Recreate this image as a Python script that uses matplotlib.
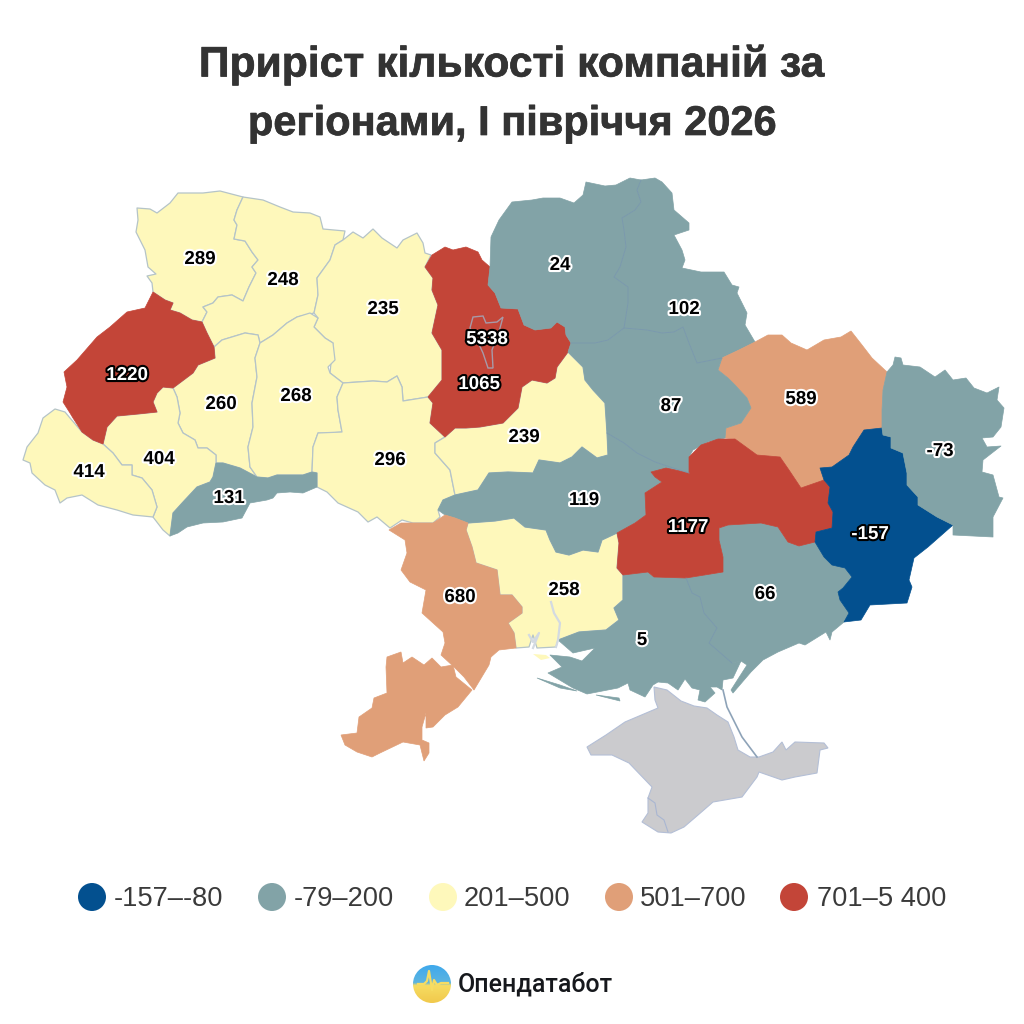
import matplotlib
matplotlib.use("Agg")
import matplotlib.pyplot as plt
import matplotlib.patheffects as pe
import numpy as np
from matplotlib.patches import Polygon, Circle
from matplotlib.colors import LinearSegmentedColormap

# values, one per region
regions = ["volyn", "rivne", "zhytomyr", "lviv", "ternopil", "khmelnytskyi", "vinnytsia",
           "chernivtsi", "ivano_frankivsk", "zakarpattia", "kyiv_obl", "kyiv_city", "chernihiv",
           "sumy", "kharkiv", "poltava", "cherkasy", "kirovohrad", "mykolaiv", "odesa",
           "kherson", "zaporizhzhia", "dnipro", "donetsk", "luhansk"]
values = [289, 248, 235, 1220, 260, 268, 296, 131, 404, 414, 1065, 5338, 24,
          102, 589, 87, 239, 119, 258, 680, 5, 66, 1177, -157, -73]

# colour classes
bin_tops = [-80, 200, 500, 700, 5400]
bin_labels = ["-157–-80", "-79–200", "201–500", "501–700", "701–5 400"]
bin_colors = ["#03508f", "#82a3a7", "#fef8bb", "#e09f78", "#c34538"]
no_data_color = "#cbcbce"

title_lines = ["Приріст кількості компаній за", "регіонами, І півріччя 2026"]
brand = "Опендатабот"

# label anchor for each region, picture pixels
label_xy = {
    "volyn": (200, 258), "rivne": (283, 279), "zhytomyr": (383, 308), "lviv": (127, 374),
    "ternopil": (221, 403), "khmelnytskyi": (296, 395), "vinnytsia": (390, 459),
    "chernivtsi": (229, 497), "ivano_frankivsk": (159, 458), "zakarpattia": (89, 471),
    "kyiv_obl": (479, 383), "kyiv_city": (487, 338), "chernihiv": (560, 264), "sumy": (684, 308),
    "kharkiv": (801, 398), "poltava": (671, 405), "cherkasy": (524, 436), "kirovohrad": (584, 499),
    "mykolaiv": (564, 589), "odesa": (460, 596), "kherson": (642, 639), "zaporizhzhia": (765, 593),
    "dnipro": (688, 526), "donetsk": (870, 533), "luhansk": (940, 450),
}

outlines = {}
outlines["volyn"] = [(137,208),(150,209),(157,213),(170,203),(178,193),(203,193),(220,191),(243,197),(237,210),(234,220),(237,225),(234,239),(245,241),(252,252),(258,260),(252,267),(256,273),(249,287),(243,301),(232,295),(218,297),(213,303),(203,307),(207,312),(202,322),(192,320),(180,313),(170,310),(173,303),(165,300),(153,292),(152,283),(147,276),(156,274),(148,267),(145,250),(136,232),(138,220)]
outlines["rivne"] = [(243,197),(263,200),(280,207),(293,212),(310,213),(320,217),(323,229),(345,231),(343,240),(335,245),(330,260),(317,278),(318,295),(314,313),(297,317),(287,323),(273,335),(260,343),(258,335),(245,333),(222,340),(214,347),(207,333),(202,322),(207,312),(203,307),(213,303),(218,297),(232,295),(243,301),(249,287),(256,273),(252,267),(258,260),(252,252),(245,241),(234,239),(237,225),(234,220),(237,210)]
outlines["zhytomyr"] = [(343,240),(353,232),(363,238),(373,229),(382,238),(397,248),(403,240),(417,233),(423,243),(425,253),(431,255),(425,267),(433,278),(432,290),(438,305),(432,333),(442,350),(442,380),(428,397),(403,401),(402,387),(397,376),(387,382),(373,381),(343,383),(330,373),(333,343),(325,338),(314,327),(318,318),(314,313),(318,295),(317,278),(330,260),(335,245)]
outlines["lviv"] = [(153,292),(165,300),(173,303),(170,310),(180,313),(192,320),(202,322),(207,333),(214,347),(215,358),(198,365),(193,373),(173,388),(163,387),(157,393),(153,402),(157,412),(138,414),(117,416),(107,427),(103,444),(93,440),(82,432),(73,418),(70,413),(63,402),(67,387),(64,372),(77,360),(97,337),(110,327),(127,312),(145,308)]
outlines["ternopil"] = [(214,347),(222,340),(245,333),(258,335),(260,343),(255,358),(257,377),(252,403),(253,427),(248,447),(250,467),(257,477),(240,468),(223,463),(216,463),(216,455),(207,448),(198,448),(195,440),(183,433),(178,423),(180,413),(177,397),(173,388),(193,373),(198,365),(215,358)]
outlines["khmelnytskyi"] = [(260,343),(273,335),(287,323),(297,317),(310,313),(318,318),(314,327),(325,338),(333,343),(335,360),(328,367),(330,373),(343,383),(337,397),(338,410),(342,432),(330,433),(318,433),(313,447),(312,472),(303,475),(293,475),(277,475),(268,478),(257,477),(250,467),(248,447),(253,427),(252,403),(257,377),(255,358)]
outlines["vinnytsia"] = [(343,383),(373,381),(387,382),(397,376),(402,387),(403,401),(428,397),(433,403),(430,423),(445,437),(435,443),(435,453),(450,470),(455,495),(443,500),(438,510),(440,517),(433,523),(413,523),(402,520),(390,528),(377,517),(368,522),(358,512),(338,503),(327,492),(317,487),(317,473),(312,472),(313,447),(318,433),(342,432),(338,410),(337,397)]
outlines["chernivtsi"] = [(216,463),(223,463),(240,468),(257,477),(268,478),(277,475),(293,475),(303,475),(312,472),(317,473),(317,487),(303,493),(290,492),(277,493),(273,498),(267,500),(250,503),(242,518),(223,522),(203,523),(187,527),(178,533),(170,536),(173,513),(183,502),(197,487),(210,482),(213,477)]
outlines["ivano_frankivsk"] = [(103,444),(107,427),(117,416),(138,414),(157,412),(153,402),(157,393),(163,387),(173,388),(177,397),(180,413),(178,423),(183,433),(195,440),(198,448),(207,448),(216,455),(216,463),(213,477),(210,482),(197,487),(183,502),(173,513),(170,536),(163,530),(153,517),(157,507),(152,490),(142,478),(132,475),(132,465),(122,465),(113,453)]
outlines["zakarpattia"] = [(55,409),(65,412),(70,418),(82,432),(93,440),(103,444),(113,453),(122,465),(132,465),(132,475),(142,478),(152,490),(157,507),(153,517),(133,515),(117,510),(98,505),(82,495),(67,498),(60,503),(55,490),(45,485),(32,473),(30,463),(23,460),(27,447),(38,433),(43,418)]
outlines["kyiv_obl"] = [(425,267),(432,255),(445,247),(453,250),(466,247),(478,252),(482,260),(490,267),(488,285),(495,293),(501,308),(518,309),(524,325),(535,330),(551,328),(557,322),(565,327),(566,335),(571,343),(568,352),(557,367),(555,378),(547,383),(532,380),(522,387),(518,408),(503,423),(480,427),(466,428),(455,428),(445,437),(430,423),(433,403),(428,397),(442,380),(442,350),(432,333),(438,305),(432,290),(433,278)]
outlines["kyiv_city"] = [(473,317),(483,316),(486,323),(497,322),(503,317),(500,328),(497,337),(492,350),(493,368),(488,368),(483,353),(477,340),(470,328)]
outlines["chernihiv"] = [(490,267),(491,237),(499,220),(512,202),(532,200),(543,198),(560,198),(574,203),(583,195),(586,182),(605,186),(616,185),(630,178),(641,180),(637,190),(641,202),(635,210),(622,218),(624,230),(626,247),(620,267),(614,277),(628,287),(628,303),(624,328),(608,340),(595,343),(571,343),(566,335),(565,327),(557,322),(551,328),(535,330),(524,325),(518,309),(501,308),(495,293),(488,285)]
outlines["sumy"] = [(641,180),(655,178),(662,182),(672,193),(674,210),(689,223),(689,230),(674,235),(682,250),(685,260),(682,268),(701,272),(724,272),(732,285),(739,287),(737,293),(747,313),(745,325),(755,342),(739,350),(722,358),(697,363),(689,343),(683,327),(674,332),(662,333),(647,330),(624,328),(628,303),(628,287),(614,277),(620,267),(626,247),(624,230),(622,218),(635,210),(641,202),(637,190)]
outlines["kharkiv"] = [(718,370),(722,358),(739,350),(755,342),(768,335),(782,335),(791,343),(807,350),(824,340),(841,337),(851,331),(862,345),(872,358),(887,372),(883,390),(882,410),(882,428),(864,430),(853,447),(849,455),(832,467),(820,468),(824,480),(801,488),(789,470),(780,457),(757,455),(735,439),(725,438),(726,428),(741,423),(751,408),(747,398),(735,385),(728,378)]
outlines["poltava"] = [(571,343),(595,343),(608,340),(624,328),(647,330),(662,333),(674,332),(683,327),(689,343),(697,363),(722,358),(718,370),(728,378),(735,385),(747,398),(751,408),(741,423),(726,428),(725,438),(708,442),(693,450),(689,457),(689,473),(670,467),(655,462),(637,453),(624,443),(607,433),(605,403),(593,390),(585,380),(583,367),(568,352)]
outlines["cherkasy"] = [(568,352),(583,367),(585,380),(593,390),(605,403),(607,433),(608,455),(597,458),(582,447),(572,457),(560,463),(539,460),(533,473),(508,472),(489,473),(478,490),(455,495),(450,470),(435,453),(435,443),(445,437),(455,428),(466,428),(480,427),(503,423),(518,408),(522,387),(532,380),(547,383),(555,378),(557,367)]
outlines["kirovohrad"] = [(455,495),(478,490),(489,473),(508,472),(533,473),(539,460),(560,463),(572,457),(582,447),(597,458),(608,455),(607,433),(624,443),(637,453),(655,462),(670,467),(689,473),(666,468),(651,472),(655,477),(662,482),(645,493),(646,515),(635,523),(617,533),(602,540),(598,552),(583,550),(569,555),(556,552),(550,540),(546,530),(525,527),(514,518),(495,521),(468,523),(455,518),(445,515),(438,510),(443,500)]
outlines["mykolaiv"] = [(466,530),(468,523),(495,521),(514,518),(525,527),(546,530),(550,540),(556,552),(569,555),(583,550),(598,552),(602,540),(617,533),(619,543),(617,568),(623,575),(623,600),(614,608),(619,620),(606,630),(579,632),(558,640),(556,647),(537,648),(533,635),(529,647),(516,648),(514,633),(508,623),(522,613),(522,607),(512,595),(500,595),(497,570),(476,563),(472,547)]
mykolaiv_islet = [(533,654),(541,660),(550,658),(546,655)]
outlines["odesa"] = [(389,530),(401,523),(413,523),(433,523),(445,515),(455,518),(468,523),(466,530),(472,547),(476,563),(497,570),(500,595),(512,595),(522,607),(522,613),(508,623),(514,633),(516,648),(499,650),(491,657),(489,665),(474,690),(464,677),(454,667),(441,655),(445,643),(443,632),(422,613),(426,590),(410,582),(401,570),(407,553),(405,540)]
odesa_south = [(387,657),(401,652),(403,663),(412,657),(424,665),(432,658),(441,667),(453,665),(456,677),(472,690),(458,707),(445,715),(433,727),(426,728),(426,713),(422,727),(422,740),(429,743),(429,753),(424,761),(420,745),(403,742),(380,753),(372,757),(357,752),(345,745),(341,735),(357,733),(359,717),(372,708),(374,698),(387,693),(386,667)]
outlines["kherson"] = [(623,575),(648,572),(654,577),(686,578),(692,593),(700,597),(704,613),(717,628),(709,643),(732,663),(741,661),(733,678),(723,680),(722,690),(717,687),(710,687),(715,693),(705,702),(698,700),(700,690),(692,688),(685,679),(678,690),(668,683),(658,682),(653,685),(645,697),(630,690),(628,683),(618,688),(587,694),(573,688),(548,673),(562,667),(550,655),(570,657),(582,661),(595,648),(573,653),(558,640),(579,632),(606,630),(619,620),(614,608),(623,600)]
kherson_spit_a = [(537,678),(560,685),(577,691),(560,688)]
kherson_spit_b = [(596,695),(619,698),(620,701)]
outlines["zaporizhzhia"] = [(686,578),(723,572),(723,557),(719,540),(719,528),(728,525),(761,523),(778,527),(788,542),(799,546),(815,542),(824,557),(832,565),(845,568),(852,577),(843,588),(838,592),(840,600),(849,613),(844,622),(832,632),(830,640),(826,632),(805,645),(799,643),(778,652),(763,660),(751,672),(733,693),(731,690),(747,665),(741,661),(732,663),(709,643),(717,628),(704,613),(700,597),(692,593)]
outlines["dnipro"] = [(689,473),(689,457),(701,445),(718,439),(735,439),(757,455),(780,457),(789,470),(801,488),(824,480),(830,487),(828,503),(833,512),(832,528),(816,532),(815,542),(799,546),(788,542),(778,527),(761,523),(728,525),(719,528),(719,540),(723,557),(723,572),(686,578),(654,577),(648,572),(623,575),(617,568),(619,543),(617,533),(635,523),(646,515),(645,493),(662,482),(655,477),(651,472),(666,468)]
outlines["donetsk"] = [(864,430),(882,428),(883,435),(891,437),(891,448),(903,453),(907,473),(907,485),(918,497),(918,505),(937,517),(953,525),(928,547),(914,558),(909,580),(912,587),(907,603),(870,605),(861,620),(844,622),(849,613),(840,600),(838,592),(843,588),(852,577),(845,568),(832,565),(824,557),(815,542),(816,532),(832,528),(833,512),(828,503),(830,487),(824,480),(820,468),(832,467),(849,455),(853,447)]
outlines["luhansk"] = [(887,372),(893,365),(895,357),(901,358),(903,365),(920,367),(935,377),(945,370),(953,380),(966,378),(974,388),(987,393),(999,387),(997,400),(1004,408),(1001,427),(993,437),(982,438),(987,447),(1001,446),(983,460),(982,472),(993,475),(999,497),(1003,498),(993,517),(993,537),(953,535),(953,525),(937,517),(918,505),(918,497),(907,485),(907,473),(903,453),(891,448),(891,437),(883,435),(882,428),(882,410),(883,390)]
crimea = [(654,687),(667,690),(681,701),(694,706),(707,708),(717,715),(728,722),(734,737),(738,750),(750,757),(759,757),(773,752),(782,742),(786,750),(795,742),(824,743),(828,748),(820,750),(817,773),(795,777),(782,780),(759,772),(757,777),(742,797),(713,802),(698,815),(684,827),(671,833),(658,832),(642,822),(648,813),(648,798),(652,787),(629,763),(612,755),(591,755),(587,747),(606,735),(625,722),(658,708),(655,700)]
sevastopol_line = [(648,798),(655,803),(657,815),(664,820),(668,832)]
arabat_spit = [(723,690),(727,707),(742,737),(757,757)]
river_a = [(551,602),(554,613),(560,623),(558,640),(556,647)]
river_b = [(529,635),(533,642),(539,633),(533,648)]

# faint borders inside the teal block
inner_borders = [
    [(641,180),(637,190),(641,202),(635,210),(622,218),(624,230),(626,247),(620,267),(614,277),(628,287),(628,303),(624,328)],
    [(571,343),(595,343),(608,340),(624,328),(647,330),(662,333),(674,332),(683,327),(689,343),(697,363),(722,358)],
    [(607,433),(624,443),(637,453),(655,462),(670,467),(689,473)],
    [(686,578),(692,593),(700,597),(704,613),(717,628),(709,643),(732,663)],
]

pulse_x = [418, 424, 427, 429, 432, 434, 437, 441, 448]
pulse_y = [984, 984, 981, 971, 990, 980, 985, 983, 983]

legend_dot_x = [92, 272, 443, 619, 794]
legend_text_x = [114, 294, 464, 640, 817]


def class_color(v):
    for top, c in zip(bin_tops, bin_colors):
        if v <= top:
            return c
    return bin_colors[-1]


plt.rcParams["font.family"] = ["Liberation Sans", "DejaVu Sans"]
fig = plt.figure(figsize=(10.24, 10.24), dpi=100)
ax = fig.add_axes([0, 0, 1, 1])
ax.set_xlim(0, 1024)
ax.set_ylim(1024, 0)
ax.axis("off")

yellow = bin_colors[2]
edge = "#b5c4c8"
# yellow regions carry the visible borders, the rest are painted over them
for name, v in zip(regions, values):
    if class_color(v) == yellow:
        ax.add_patch(Polygon(outlines[name], closed=True, fc=yellow, ec=edge, lw=0.9, joinstyle="round", zorder=2))
ax.add_patch(Polygon(mykolaiv_islet, closed=True, fc=yellow, ec="none", zorder=2))
for name, v in zip(regions, values):
    c = class_color(v)
    if c != yellow and name != "kyiv_city":
        ax.add_patch(Polygon(outlines[name], closed=True, fc=c, ec=c, lw=0.5, joinstyle="round", zorder=2.2))

for seg in inner_borders:
    ax.plot(*zip(*seg), color="#7a98ae", lw=0.6, zorder=2.4)

city_c = class_color(values[regions.index("kyiv_city")])
ax.add_patch(Polygon(outlines["kyiv_city"], closed=True, fc=city_c, ec="#a79aa8", lw=1.0, zorder=3))
odesa_c = class_color(values[regions.index("odesa")])
ax.add_patch(Polygon(odesa_south, closed=True, fc=odesa_c, ec=odesa_c, lw=0.5, zorder=2.2))
kh_c = class_color(values[regions.index("kherson")])
ax.add_patch(Polygon(kherson_spit_a, closed=True, fc=kh_c, ec=kh_c, lw=0.5, zorder=2))
ax.add_patch(Polygon(kherson_spit_b, closed=True, fc=kh_c, ec=kh_c, lw=0.5, zorder=2))
ax.add_patch(Polygon(crimea, closed=True, fc=no_data_color, ec="#b4bfd6", lw=0.8, zorder=2))
ax.plot(*zip(*sevastopol_line), color="#a9b6d2", lw=0.8, zorder=3)
ax.plot(*zip(*arabat_spit), color="#8ea3b8", lw=1.2, zorder=3)
ax.plot(*zip(*river_a), color="#d3dae2", lw=1.6, zorder=3)
ax.plot(*zip(*river_b), color="#d3dae2", lw=1.6, zorder=3)

# white figures with a dark rim on the dark classes
for name, v in zip(regions, values):
    x, y = label_xy[name]
    dark = class_color(v) in (bin_colors[0], bin_colors[4])
    fg, rim = ("white", "black") if dark else ("black", "white")
    ax.text(x, y + 1.5, str(v), ha="center", va="center", fontsize=13.5, fontweight="bold", color=fg,
            zorder=5, path_effects=[pe.withStroke(linewidth=3, foreground=rim)])

ax.text(512, 65, title_lines[0], ha="center", va="center", fontsize=30.7, fontweight="bold", color="#333333",
        path_effects=[pe.withStroke(linewidth=0.5, foreground="#333333")])
ax.text(512, 124, title_lines[1], ha="center", va="center", fontsize=29.9, fontweight="bold", color="#333333",
        path_effects=[pe.withStroke(linewidth=0.5, foreground="#333333")])

for dx, tx, lab, c in zip(legend_dot_x, legend_text_x, bin_labels, bin_colors):
    ax.add_patch(Circle((dx, 897), 14, fc=c, ec="none"))
    ax.text(tx, 899, lab, ha="left", va="center", fontsize=19.6, color="#3a3a3a")

# logo: blue over yellow disc with a pulse line
grad = LinearSegmentedColormap.from_list("logo", [(0, "#3fa9ec"), (0.46, "#5cb4e0"), (0.54, "#f6dc62"), (1, "#f1c94c")])
im = ax.imshow(np.linspace(0, 1, 64).reshape(-1, 1), cmap=grad, extent=(413, 451, 1003, 965), aspect="auto", zorder=2)
im.set_clip_path(Circle((432, 984), 19, transform=ax.transData))
ax.set_xlim(0, 1024)
ax.set_ylim(1024, 0)
ax.plot(pulse_x, pulse_y, color="#f6dc62", lw=1.6, zorder=3)
ax.text(458, 984, brand, ha="left", va="center", fontsize=18, fontweight=500, color="#16181c", family=["Roboto", "DejaVu Sans"])

fig.savefig("out.png", dpi=100, facecolor="white")
